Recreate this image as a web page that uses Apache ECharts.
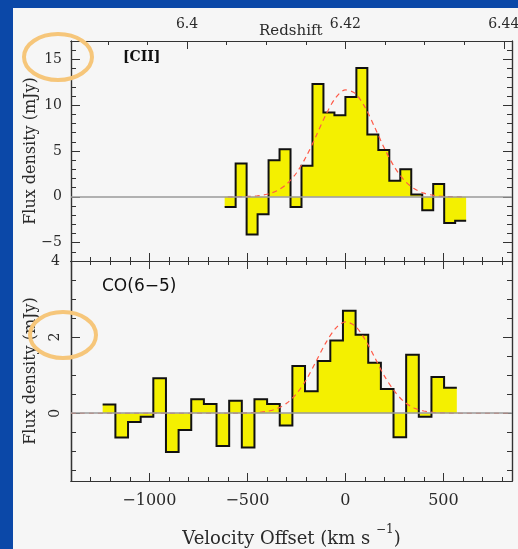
<!DOCTYPE html>
<html>
<head>
<meta charset="utf-8">
<script src="https://cdn.jsdelivr.net/npm/echarts@6/dist/echarts.min.js"></script>
<style>
  html, body { margin: 0; padding: 0; width: 518px; height: 549px; overflow: hidden; background: #0b48a8; }
  #sheet { position: absolute; left: 13px; top: 8px; right: 0; bottom: 0; background: #f6f6f6; }
  #chart { position: absolute; left: 0; top: 0; width: 518px; height: 549px; }
</style>
</head>
<body>
<div id="sheet"></div>
<div id="chart"></div>
<script>
// [CII] spectrum: channel centres (km/s) and flux densities (mJy)
const ciiVelocity = [-588, -532, -476, -420, -364, -308, -252, -196, -140, -84, -28,
                     28, 84, 140, 196, 252, 308, 364, 420, 476, 532, 588];
const ciiFlux = [-1.1, 3.65, -4.1, -1.9, 4.0, 5.2, -1.1, 3.4, 12.3, 9.2, 8.9,
                 10.9, 14.05, 6.8, 5.1, 1.75, 3.0, 0.25, -1.45, 1.4, -2.85, -2.6];
// Gaussian fit to the [CII] line
const ciiFitVelocity = [-600, -550, -500, -450, -400, -350, -300, -250, -200, -150, -100, -50,
                        0, 50, 100, 150, 200, 250, 300, 350, 400, 450, 500, 550, 600];
const ciiFitFlux = [0, 0.01, 0.04, 0.11, 0.28, 0.66, 1.38, 2.6, 4.39, 6.62, 8.94, 10.8,
                    11.67, 11.29, 9.77, 7.57, 5.25, 3.25, 1.81, 0.9, 0.4, 0.16, 0.05, 0.02, 0];

// CO(6-5) spectrum: channel centres (km/s) and flux densities (mJy)
const coVelocity = [-1206, -1141, -1077, -1012, -948, -883, -819, -754, -690, -625, -561, -496,
                    -432, -367, -303, -238, -174, -109, -45, 20, 84, 149, 213, 278, 342, 407, 471, 536];
const coFlux = [0.23, -0.64, -0.23, -0.09, 0.92, -1.02, -0.44, 0.37, 0.24, -0.86, 0.33, -0.9,
                0.37, 0.24, -0.32, 1.24, 0.58, 1.37, 1.91, 2.69, 2.06, 1.33, 0.64, -0.63, 1.54, -0.09, 0.95, 0.67];
// Gaussian fit to the CO(6-5) line
const coFitVelocity = [-1400, -1000, -600, -550, -500, -450, -400, -350, -300, -250, -200, -150, -100, -50,
                       0, 50, 100, 150, 200, 250, 300, 350, 400, 450, 500, 550, 600, 850];
const coFitFlux = [0, 0, 0, 0, 0.01, 0.02, 0.05, 0.12, 0.26, 0.51, 0.88, 1.36, 1.85, 2.23,
                   2.4, 2.29, 1.94, 1.46, 0.97, 0.58, 0.3, 0.14, 0.06, 0.02, 0.01, 0, 0, 0];

// Axis ticks
const velocityMajorTicks = [-1000, -500, 0, 500];
const velocityMinorTicks = [-1300, -1200, -1100, -1000, -900, -800, -700, -600, -500, -400, -300,
                            -200, -100, 0, 100, 200, 300, 400, 500, 600, 700, 800];
const redshiftMajorTicks = [6.40, 6.42, 6.44];
const redshiftMinorTicks = [6.39, 6.395, 6.40, 6.405, 6.41, 6.415, 6.42, 6.425, 6.43, 6.435, 6.44];
const ciiMajorTicks = [-5, 0, 5, 10, 15];
const ciiMinorTicks = [-6, -5, -4, -3, -2, -1, 0, 1, 2, 3, 4, 5, 6, 7, 8, 9, 10, 11, 12, 13, 14, 15, 16];
const coMajorTicks = [0, 2, 4];
const coMinorTicks = [-1.5, -1, -0.5, 0, 0.5, 1, 1.5, 2, 2.5, 3, 3.5];

// Velocity range and systemic redshift for the top (redshift) scale
const vMin = -1400, vMax = 850;
const zSys = 6.42, cLight = 299792.458;
const zMin = zSys + vMin * (1 + zSys) / cLight;
const zMax = zSys + vMax * (1 + zSys) / cLight;

const SERIF = '"DejaVu Serif", "Liberation Serif", serif';
const INK = '#2a2a2a';
const fmtNum = v => (v < 0 ? '\u2212' + Math.abs(v) : String(v));

// Histogram outline: flat top over each channel, joined by vertical steps
function stepPoints(centres, values) {
  const pts = [];
  const n = centres.length;
  for (let i = 0; i < n; i++) {
    const left = i === 0 ? centres[0] - (centres[1] - centres[0]) / 2 : (centres[i - 1] + centres[i]) / 2;
    const right = i === n - 1 ? centres[n - 1] + (centres[n - 1] - centres[n - 2]) / 2 : (centres[i] + centres[i + 1]) / 2;
    pts.push([left, values[i]], [right, values[i]]);
  }
  return pts;
}
const pairs = (xs, ys) => xs.map((x, i) => [x, ys[i]]);

function axis(gridIndex, position, min, max, ticks, len, extra) {
  return Object.assign({
    type: 'value', gridIndex, position, min, max,
    axisLine: { show: true, onZero: false, lineStyle: { color: '#333', width: 1.2 } },
    axisTick: { show: true, inside: true, length: len, customValues: ticks, lineStyle: { color: '#333', width: 1 } },
    axisLabel: { show: false },
    splitLine: { show: false },
    axisPointer: { show: false },
    nameMoveOverlap: false,
    silent: true
  }, extra || {});
}

const labelStyle = { color: INK, fontFamily: SERIF, fontSize: 14 };
const yTitle = {
  name: 'Flux density (mJy)', nameLocation: 'middle', nameRotate: 90, nameGap: 32,
  nameTextStyle: { color: INK, fontFamily: SERIF, fontSize: 16 }
};

const xAxes = [
  // top panel: velocity ticks along the bottom edge
  axis(0, 'bottom', vMin, vMax, velocityMinorTicks, 4),
  axis(0, 'bottom', vMin, vMax, velocityMajorTicks, 8),
  // top panel: redshift scale along the top edge
  axis(0, 'top', zMin, zMax, redshiftMinorTicks, 4),
  axis(0, 'top', zMin, zMax, redshiftMajorTicks, 8, {
    axisLabel: Object.assign({ show: true, margin: 10, customValues: redshiftMajorTicks,
      formatter: v => String(+v.toFixed(3)) }, labelStyle)
  }),
  // bottom panel: velocity ticks along the top edge
  axis(1, 'top', vMin, vMax, velocityMinorTicks, 4),
  axis(1, 'top', vMin, vMax, velocityMajorTicks, 8),
  // bottom panel: labelled velocity axis
  axis(1, 'bottom', vMin, vMax, velocityMinorTicks, 4),
  axis(1, 'bottom', vMin, vMax, velocityMajorTicks, 8, {
    axisLabel: Object.assign({ show: true, margin: 12, customValues: velocityMajorTicks, formatter: fmtNum },
      labelStyle, { fontSize: 16 }),
    name: '{n|Velocity Offset (km s }{s|\u22121}{n|)}',
    nameLocation: 'middle',
    nameGap: 43,
    nameTextStyle: {
      color: INK,
      rich: {
        n: { fontFamily: SERIF, fontSize: 18, color: INK, verticalAlign: 'bottom', lineHeight: 24 },
        s: { fontFamily: SERIF, fontSize: 12, color: INK, verticalAlign: 'top', lineHeight: 24 }
      }
    }
  })
];

const yAxes = [
  // [CII] panel
  axis(0, 'left', -7, 17, ciiMinorTicks, 5),
  axis(0, 'left', -7, 17, ciiMajorTicks, 9, Object.assign({
    axisLabel: Object.assign({ show: true, margin: 9, customValues: ciiMajorTicks, formatter: fmtNum }, labelStyle)
  }, yTitle)),
  axis(0, 'right', -7, 17, ciiMinorTicks, 5),
  axis(0, 'right', -7, 17, ciiMajorTicks, 9),
  // CO(6-5) panel
  axis(1, 'left', -1.78, 4, coMinorTicks, 5),
  axis(1, 'left', -1.78, 4, coMajorTicks, 9, Object.assign({
    axisLabel: Object.assign({ show: true, margin: 9, rotate: 90, customValues: [0, 2], formatter: fmtNum }, labelStyle)
  }, yTitle)),
  axis(1, 'left', -1.78, 4, [], 0, {
    axisTick: { show: false },
    axisLabel: Object.assign({ show: true, margin: 11, customValues: [4], formatter: fmtNum }, labelStyle)
  }),
  axis(1, 'right', -1.78, 4, coMinorTicks, 5),
  axis(1, 'right', -1.78, 4, coMajorTicks, 9)
];

const FILL = '#f4f000';
const zeroLine = {
  silent: true, symbol: 'none', label: { show: false },
  lineStyle: { color: '#9a9a9a', width: 1.6, type: 'solid' },
  data: [{ yAxis: 0 }]
};

function spectrumSeries(xi, yi, centres, values, fitV, fitF) {
  const steps = stepPoints(centres, values);
  return [
    { type: 'line', xAxisIndex: xi, yAxisIndex: yi, data: steps, symbol: 'none', z: 1,
      lineStyle: { width: 0, opacity: 0 }, areaStyle: { color: FILL, opacity: 1, origin: 0 },
      markLine: zeroLine, animation: false, silent: true },
    { type: 'line', xAxisIndex: xi, yAxisIndex: yi, data: steps, symbol: 'none', z: 3,
      lineStyle: { color: '#111', width: 2, join: 'miter' }, animation: false, silent: true },
    { type: 'line', xAxisIndex: xi, yAxisIndex: yi, data: pairs(fitV, fitF), symbol: 'none', z: 4,
      smooth: 0.3, lineStyle: { color: '#ff5a48', width: 1.2, type: [5, 4] }, animation: false, silent: true }
  ];
}

const chart = echarts.init(document.getElementById('chart'), null, { renderer: 'canvas' });
chart.setOption({
  animation: false,
  backgroundColor: 'transparent',
  grid: [
    { left: 71, right: 6, top: 41, height: 220, outerBoundsMode: 'none' },
    { left: 71, right: 6, top: 261, height: 220, outerBoundsMode: 'none' }
  ],
  xAxis: xAxes,
  yAxis: yAxes,
  series: [
    ...spectrumSeries(0, 0, ciiVelocity, ciiFlux, ciiFitVelocity, ciiFitFlux),
    ...spectrumSeries(4, 4, coVelocity, coFlux, coFitVelocity, coFitFlux)
  ],
  graphic: [
    { type: 'text', left: 259, top: 24, silent: true,
      style: { text: 'Redshift', fill: INK, font: '15px ' + SERIF } },
    { type: 'text', left: 123, top: 50, silent: true,
      style: { text: '[CII]', fill: '#111', font: 'bold 14px ' + SERIF } },
    { type: 'text', left: 102, top: 278, silent: true,
      style: { text: 'CO(6\u22125)', fill: '#111', font: '17px "DejaVu Sans", sans-serif' } },
    { type: 'ellipse', silent: true, z: 10,
      shape: { cx: 58, cy: 57, rx: 34, ry: 23 },
      style: { fill: 'none', stroke: '#f6c67a', lineWidth: 4 } },
    { type: 'ellipse', silent: true, z: 10,
      shape: { cx: 63, cy: 335, rx: 33, ry: 23 },
      style: { fill: 'none', stroke: '#f6c67a', lineWidth: 4 } }
  ]
});
</script>
</body>
</html>
